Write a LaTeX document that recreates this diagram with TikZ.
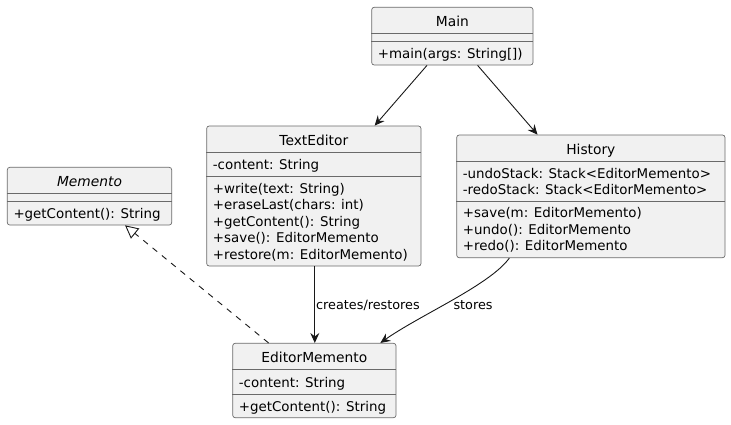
\documentclass[tikz,border=0pt]{standalone}
\usepackage{fontspec}
\setmainfont{DejaVu Sans}
\usetikzlibrary{arrows.meta,calc}
\definecolor{boxfill}{HTML}{F1F1F1}
\definecolor{ink}{HTML}{181818}
\definecolor{boxline}{HTML}{6A6A6A}
\tikzset{
  cls/.style={rectangle, draw=boxline, line width=0.7pt, fill=boxfill, rounded corners=2.5pt, inner sep=0pt},
  sepline/.style={draw=boxline, line width=0.7pt},
  mtxt/.style={anchor=base west, inner sep=0pt, font=\fontsize{13.4}{16}\selectfont, text=black},
  ttl/.style={anchor=base, inner sep=0pt, font=\fontsize{13.8}{16}\selectfont, text=black},
  lbl/.style={anchor=base west, inner sep=0pt, font=\fontsize{12.8}{15}\selectfont, text=black},
  assoc/.style={draw=ink, line width=0.9pt, -{Stealth[length=10pt,width=9pt,inset=3.5pt]}},
  realize/.style={draw=ink, line width=0.9pt, dash pattern=on 6pt off 6pt, -{Triangle[length=13pt,width=13pt,fill=white,line width=0.9pt]}}
}
\begin{document}
\begin{tikzpicture}[x=1pt,y=-1pt]
\useasboundingbox (0,0) rectangle (731,424);

% Main
\node[cls, minimum width=161.3, minimum height=57.7] (main) at (452.35,36.15) {};
\draw[sepline] (main.west |- 0,33.3) -- (main.east |- 0,33.3);
\draw[sepline] (main.west |- 0,41.3) -- (main.east |- 0,41.3);
\node[ttl] (mainT) at (452.35,26) {Main};
\node[mtxt] (mainM1) at (377.7,58.1) {+main(args: String[])};

% TextEditor
\node[cls, minimum width=214.3, minimum height=140] (te) at (313.85,196) {};
\draw[sepline] (te.west |- 0,152.3) -- (te.east |- 0,152.3);
\draw[sepline] (te.west |- 0,176.7) -- (te.east |- 0,176.7);
\node[ttl] (teT) at (313.85,145) {TextEditor};
\node[mtxt] (teA1) at (212.7,169.3) {-content: String};
\node[mtxt] (teM1) at (212.7,193.5) {+write(text: String)};
\node[mtxt] (teM2) at (212.7,209.9) {+eraseLast(chars: int)};
\node[mtxt] (teM3) at (212.7,226.3) {+getContent(): String};
\node[mtxt] (teM4) at (212.7,242.7) {+save(): EditorMemento};
\node[mtxt] (teM5) at (212.7,259.1) {+restore(m: EditorMemento)};

% History
\node[cls, minimum width=268.3, minimum height=122.7] (hist) at (590.85,196.35) {};
\draw[sepline] (hist.west |- 0,161.8) -- (hist.east |- 0,161.8);
\draw[sepline] (hist.west |- 0,201) -- (hist.east |- 0,201);
\node[ttl] (histT) at (590.85,154) {History};
\node[mtxt] (histA1) at (462.7,178.2) {-undoStack: Stack<EditorMemento>};
\node[mtxt] (histA2) at (462.7,194.4) {-redoStack: Stack<EditorMemento>};
\node[mtxt] (histM1) at (462.7,217.8) {+save(m: EditorMemento)};
\node[mtxt] (histM2) at (462.7,234.2) {+undo(): EditorMemento};
\node[mtxt] (histM3) at (462.7,250.6) {+redo(): EditorMemento};

% Memento
\node[cls, minimum width=164.4, minimum height=57.7] (mem) at (89.5,196.15) {};
\draw[sepline] (mem.west |- 0,193.3) -- (mem.east |- 0,193.3);
\draw[sepline] (mem.west |- 0,201.3) -- (mem.east |- 0,201.3);
\node[ttl, font=\fontsize{13.8}{16}\selectfont\itshape] (memT) at (89.5,186) {Memento};
\node[mtxt] (memM1) at (13.3,218.1) {+getContent(): String};

% EditorMemento
\node[cls, minimum width=163.3, minimum height=74.4] (em) at (314.35,380.5) {};
\draw[sepline] (em.west |- 0,369) -- (em.east |- 0,369);
\draw[sepline] (em.west |- 0,394.3) -- (em.east |- 0,394.3);
\node[ttl] (emT) at (314.35,362) {EditorMemento};
\node[mtxt] (emA1) at (238.7,387) {-content: String};
\node[mtxt] (emM1) at (238.7,411.1) {+getContent(): String};

% connectors
\draw[assoc] (main) -- (te);
\draw[assoc] (main) -- (hist);
\draw[assoc] (te.south -| 314.8,0) -- (em.north -| 314.8,0);
\draw[assoc] ($(hist.south west)+(53,0)$) .. controls (490,285) and (420,315) .. ($(em.north west)+(148,0)$);
\draw[realize] (em) -- (mem);

% labels
\node[lbl] (lblCR) at (316,309.3) {creates/restores};
\node[lbl] (lblST) at (453.3,309.3) {stores};
\end{tikzpicture}
\end{document}
